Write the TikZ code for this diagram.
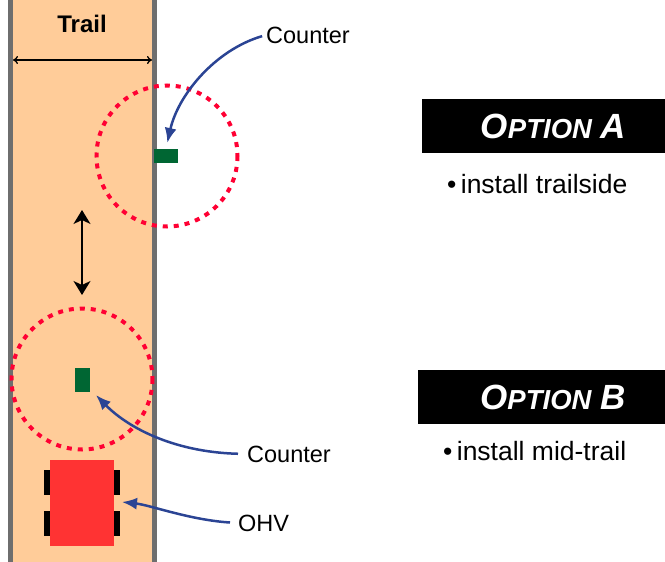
\documentclass[tikz,border=0pt]{standalone}
\usepackage{fontspec}
\setmainfont{Liberation Sans}
\usetikzlibrary{arrows.meta}

\definecolor{trailfill}{HTML}{FFCC99}
\definecolor{edgegray}{HTML}{6E6E6E}
\definecolor{zonered}{HTML}{FF0033}
\definecolor{countergreen}{HTML}{006633}
\definecolor{ohvred}{HTML}{FF3333}
\definecolor{calloutblue}{HTML}{2B4494}

\tikzset{
	zone/.style={draw=zonered, line width=4pt, dash pattern=on 5pt off 6pt},
	counterbox/.style={fill=countergreen, inner sep=0pt},
	wheel/.style={fill=black, inner sep=0pt, minimum width=6pt, minimum height=25pt},
	pointer/.style={draw=calloutblue, line width=2.5pt, -{Latex[length=15pt,width=12pt]}},
	lbl/.style={inner sep=0pt, font=\fontsize{23.5}{28}\selectfont},
	bullet/.style={inner sep=0pt, anchor=west, font=\fontsize{26.5}{30}\selectfont},
	optbox/.style={fill=black, inner sep=0pt, minimum height=54pt},
	opttitle/.style={text=white, inner sep=0pt, font=\bfseries\itshape}
}
\newcommand{\optname}[1]{{\fontsize{35}{38}\selectfont O}{\fontsize{27.5}{30}\selectfont PTION}\hspace{9pt}{\fontsize{35}{38}\selectfont #1}}

\begin{document}
\begin{tikzpicture}[x=1pt, y=-1pt]
			\useasboundingbox (0,0) rectangle (665,562);

			% trail
			\fill[trailfill] (10,0) rectangle (154,562);
			\draw[edgegray, line width=5pt] (10.5,0) -- (10.5,562);
			\draw[edgegray, line width=5pt] (154.5,0) -- (154.5,562);

			\node[inner sep=0pt, font=\bfseries\fontsize{24}{28}\selectfont] (trail) at (82,24) {Trail};
			\coordinate (wl) at (13,60);
			\coordinate (wr) at (152,60);
			\draw[line width=1.3pt, {To[length=5pt,width=8pt]}-{To[length=5pt,width=8pt]}] (wl) -- (wr);

			% option A: trailside counter
			\coordinate (zoneA) at (167,156);
			\draw[zone] (zoneA) circle (70.5);
			\node[counterbox, minimum width=24pt, minimum height=14pt] (cntA) at (166,156) {};

			% spacing between zones
			\coordinate (gapT) at (82,210);
			\coordinate (gapB) at (82,295);
			\draw[line width=1.4pt, {Stealth[length=14pt,width=17pt,inset=4pt]}-{Stealth[length=14pt,width=17pt,inset=4pt]}] (gapT) -- (gapB);

			% option B: mid-trail counter
			\coordinate (zoneB) at (82,379);
			\draw[zone] (zoneB) circle (70.5);
			\node[counterbox, minimum width=15pt, minimum height=24pt] (cntB) at (82.5,380) {};

			% vehicle
			\node[wheel] (w1) at (47,482.5) {};
			\node[wheel] (w2) at (47,523.5) {};
			\node[wheel] (w3) at (117,482.5) {};
			\node[wheel] (w4) at (117,523.5) {};
			\node[fill=ohvred, inner sep=0pt, minimum width=64pt, minimum height=86pt] (ohv) at (82,503) {};

			% callouts
			\node[lbl, anchor=west] (cntAlbl) at (266,35) {Counter};
			\node[lbl, anchor=west] (cntBlbl) at (247,454) {Counter};
			\node[lbl, anchor=west] (ohvlbl) at (238,523) {OHV};

			\draw[pointer, shorten <=4pt, shorten >=6pt] (cntAlbl.west) .. controls (215,50) and (178,95) .. (cntA.north);
			\draw[pointer, shorten <=9pt] (cntBlbl.west) .. controls (170,452) and (125,425) .. (96,395);
			\draw[pointer, shorten <=8pt] (ohvlbl.west) .. controls (190,520) and (150,505) .. (122,502);

			% options
			\node[optbox, minimum width=243pt] (optA) at (543.5,126) {};
			\node[opttitle] (optAt) at (553.5,126) {\optname{A}};
			\node[bullet] (optAtxt) at (447,184) {•\,install trailside};

			\node[optbox, minimum width=247pt] (optB) at (541.5,397) {};
			\node[opttitle] (optBt) at (553,397) {\optname{B}};
			\node[bullet] (optBtxt) at (443,451) {•\,install mid-trail};
		\end{tikzpicture}
\end{document}
